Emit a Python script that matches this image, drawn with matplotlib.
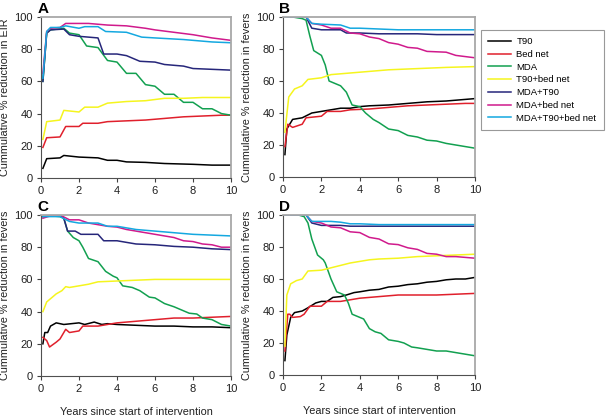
import matplotlib.pyplot as plt

#series names and colours (legend order)
names = ['T90', 'Bed net', 'MDA', 'T90+bed net', 'MDA+T90', 'MDA+bed net', 'MDA+T90+bed net']
colors = ['#000000', '#e0202c', '#12a050', '#f5f51e', '#26267a', '#d01a8c', '#14a8e0']

#panel A - cumulative % reduction in EIR
a_x = {
    'T90': [0.1, 0.3, 1.0, 1.2, 2, 3, 3.5, 4, 4.5, 5.5, 6.5, 8, 9, 10],
    'Bed net': [0.1, 0.3, 1.0, 1.3, 2, 2.2, 3, 3.5, 4.5, 5.5, 6.5, 7.5, 8.5, 9.5, 10],
    'MDA': [0.1, 0.3, 0.5, 1.2, 1.5, 2, 2.4, 3, 3.5, 4, 4.5, 5, 5.5, 6, 6.5, 7, 7.5, 8, 8.5, 9, 9.5, 10],
    'T90+bed net': [0.1, 0.3, 1.0, 1.2, 2, 2.3, 3, 3.5, 4.5, 5.5, 6.5, 7.5, 8.5, 10],
    'MDA+T90': [0.1, 0.3, 0.5, 1.2, 1.5, 2, 3, 3.3, 4, 4.5, 5.2, 6, 6.5, 7, 7.5, 8, 9, 10],
    'MDA+bed net': [0.1, 0.3, 0.5, 1.0, 1.3, 2, 2.5, 3, 3.5, 4.5, 5.5, 6, 7, 8, 9, 10],
    'MDA+T90+bed net': [0.1, 0.3, 0.5, 1.0, 1.3, 2, 2.3, 3, 3.4, 4.5, 5.3, 6, 7.5, 9, 10],
}
a_y = {
    'T90': [6, 12, 12.5, 14, 13, 12.5, 11, 11, 10, 9.7, 9, 8.5, 8, 8],
    'Bed net': [19, 25, 25.5, 32, 32, 34, 34, 35, 35.5, 36, 37, 38, 38.5, 39, 39],
    'MDA': [60, 90, 92, 93, 90, 89, 82, 81, 73, 72, 65, 65, 58, 57, 52, 52, 47, 47, 43, 43, 40, 39],
    'T90+bed net': [24, 35, 36, 42, 41, 44, 44, 46.5, 47.5, 48, 49.5, 49.5, 50, 50],
    'MDA+T90': [60, 90, 92, 92.5, 89, 88, 87, 77, 77, 76, 72.5, 72, 70.5, 70, 69.5, 68, 67.5, 67],
    'MDA+bed net': [65, 91, 93, 93.5, 96, 96, 96, 95.5, 95, 94.5, 93, 92, 90.5, 89, 87, 85.5],
    'MDA+T90+bed net': [62, 91, 93.5, 93.5, 94.5, 93, 94, 94, 91, 90.5, 87.5, 87, 86, 84.5, 84],
}

#panel B - cumulative % reduction in fevers
b_x = {
    'T90': [0.1, 0.2, 0.5, 1, 1.5, 2, 2.5, 3, 3.5, 4, 4.5, 5.5, 6.5, 7.5, 8.5, 9.5, 10],
    'Bed net': [0.1, 0.25, 0.5, 1, 1.2, 2, 2.3, 3, 3.5, 4.5, 5.5, 6.5, 7.5, 8.5, 9.5, 10],
    'MDA': [0.1, 0.5, 1, 1.2, 1.4, 1.6, 2, 2.2, 2.4, 3, 3.3, 3.6, 4, 4.3, 4.7, 5, 5.5, 6, 6.5, 7, 7.5, 8, 8.5, 9, 9.5, 10],
    'T90+bed net': [0.1, 0.3, 0.6, 1, 1.3, 2, 2.5, 3.5, 4.5, 5.5, 6.5, 7.5, 8.5, 10],
    'MDA+T90': [0.1, 1.2, 1.5, 2, 3, 3.3, 4, 5, 7, 8, 10],
    'MDA+bed net': [0.1, 1.2, 1.5, 2, 2.5, 3, 3.5, 4, 4.5, 5, 5.5, 6, 6.5, 7, 7.5, 8.5, 9, 10],
    'MDA+T90+bed net': [0.1, 1.2, 1.5, 2, 3, 3.5, 4, 5, 6, 8, 10],
}
b_y = {
    'T90': [14, 30, 36, 37, 40, 41, 42, 43, 43, 44, 44.5, 45, 46, 47, 47.5, 48.5, 49],
    'Bed net': [19, 33, 31, 33, 37, 38, 41, 41, 42, 42.5, 43.5, 44.5, 45, 45.5, 46, 46],
    'MDA': [100, 100, 99, 98, 88, 79, 76, 70, 60, 57, 53, 45, 44, 40, 36, 34, 30, 29, 26, 25, 23, 22.5, 21, 20, 19, 18],
    'T90+bed net': [28, 50, 55, 57, 61, 62, 64, 65, 66, 67, 67.5, 68, 68.5, 69],
    'MDA+T90': [100, 100, 93, 92, 92, 90, 90, 89.5, 89.5, 89, 89],
    'MDA+bed net': [100, 100, 96, 95, 93, 93, 90, 89.5, 87.5, 86.5, 84, 83, 81, 80.5, 78.5, 78, 76, 74.5],
    'MDA+T90+bed net': [100, 100, 96, 95.5, 95, 93, 93, 92.5, 92, 92, 92],
}

#panel C - cumulative % reduction in fevers
c_x = {
    'T90': [0.1, 0.2, 0.35, 0.5, 0.8, 1.2, 2, 2.3, 2.8, 3.2, 3.5, 4, 5, 6, 7, 8, 9, 10],
    'Bed net': [0.1, 0.3, 0.45, 0.8, 1, 1.3, 1.5, 2, 2.2, 3, 3.5, 4, 5, 6, 7, 8, 9, 10],
    'MDA': [0.1, 0.5, 1, 1.2, 1.4, 1.7, 2, 2.2, 2.5, 3, 3.4, 3.8, 4, 4.3, 4.8, 5.2, 5.7, 6, 6.5, 7, 7.4, 7.8, 8.2, 8.5, 9, 9.5, 10],
    'T90+bed net': [0.1, 0.3, 0.5, 0.8, 1.1, 1.3, 1.5, 2, 2.5, 3, 4, 5, 6, 8, 10],
    'MDA+T90': [0.1, 1, 1.2, 1.4, 1.8, 2.1, 3, 3.3, 4, 4.5, 5, 6, 7, 8, 9, 10],
    'MDA+bed net': [0.1, 0.5, 1, 1.5, 2, 2.5, 3, 3.5, 4, 4.5, 5, 5.5, 6, 6.5, 7, 7.5, 8, 8.5, 9, 9.5, 10],
    'MDA+T90+bed net': [0.1, 0.5, 1, 1.5, 2, 3, 3.5, 4, 4.5, 5, 6, 7, 8, 9, 10],
}
c_y = {
    'T90': [20, 27, 27, 31, 33, 32, 33, 32, 33.5, 32, 32.5, 32, 31.5, 31, 31, 30.5, 30.5, 30],
    'Bed net': [24, 22, 18, 21, 23, 29, 27, 28, 31, 31, 32, 33, 34, 35, 36, 36, 36.5, 37],
    'MDA': [99, 99.5, 99, 98, 90, 86, 84, 80, 73, 71, 65, 62, 61, 56, 55, 53, 49, 48.5, 45, 43, 41, 39, 38.5, 36, 35, 32, 31],
    'T90+bed net': [40, 46, 48, 51, 53, 55.5, 55, 56, 57, 58.5, 59, 59.5, 60, 60, 60],
    'MDA+T90': [99, 100, 98, 90, 90, 88, 88, 84, 84, 83, 82, 81.5, 80.5, 80, 79, 78.5],
    'MDA+bed net': [98, 99.5, 100, 97, 97, 95, 94, 93, 92.5, 91, 90, 89, 88, 87, 86, 84, 83.5, 82, 81.5, 80, 80],
    'MDA+T90+bed net': [99, 99, 99, 96, 95, 95, 93, 93, 92, 91, 90, 89, 88, 87.5, 87],
}

#panel D - cumulative % reduction in fevers
d_x = {
    'T90': [0.1, 0.2, 0.4, 0.6, 1, 1.3, 1.7, 2, 2.3, 2.6, 3, 3.3, 3.7, 4, 4.5, 5, 5.5, 6, 6.5, 7, 7.5, 8, 8.5, 9, 9.5, 10],
    'Bed net': [0.1, 0.25, 0.35, 0.5, 0.9, 1.1, 1.4, 2, 2.3, 3, 3.5, 4, 4.5, 5, 5.5, 6, 7, 8, 9, 10],
    'MDA': [0.1, 0.8, 1.1, 1.3, 1.5, 1.8, 2.1, 2.2, 2.5, 2.8, 3.2, 3.4, 3.6, 4, 4.2, 4.5, 4.8, 5.1, 5.5, 6, 6.3, 6.7, 7, 7.5, 8, 8.5, 9, 9.5, 10],
    'T90+bed net': [0.1, 0.2, 0.4, 0.7, 1, 1.3, 2, 2.5, 3, 3.5, 4, 4.5, 5, 6, 7, 8, 9, 10],
    'MDA+T90': [0.1, 1.2, 1.5, 2, 3, 3.5, 4, 6, 10],
    'MDA+bed net': [0.1, 1.2, 1.5, 2, 2.5, 3, 3.5, 4, 4.5, 5, 5.5, 6, 6.5, 7, 7.5, 8, 8.5, 9, 10],
    'MDA+T90+bed net': [0.1, 1.2, 1.5, 2, 2.5, 3, 3.5, 4, 5, 7, 10],
}
d_y = {
    'T90': [9, 25, 36, 39, 40, 42, 45, 46, 46, 48.5, 49, 50, 51.5, 52, 53, 53.5, 55, 55.5, 56.5, 57, 58, 58.5, 59.5, 60, 60, 61],
    'Bed net': [15, 38, 38, 36, 36.5, 38, 43, 43, 46, 46, 47, 48, 48.5, 49, 49.5, 50, 50, 50, 50.5, 51],
    'MDA': [100, 100, 99, 95, 85, 75, 72, 70, 60, 52, 50, 45, 38, 36, 35, 29, 27, 26, 22, 21, 20, 17.5, 17, 16, 15, 15, 14, 13, 12],
    'T90+bed net': [18, 50, 57, 59, 60, 65, 65.5, 67, 68.5, 70, 71, 72, 72.5, 73, 74, 74.5, 75, 75.5],
    'MDA+T90': [100, 100, 95, 93.5, 93.5, 93, 93, 93, 93],
    'MDA+bed net': [100, 100, 96, 95, 92.5, 92, 89.5, 89, 86, 85, 82, 81.5, 79.5, 78.5, 76, 75.5, 74, 74, 73],
    'MDA+T90+bed net': [100, 100, 96, 96, 96, 95.5, 94.5, 94.5, 94, 94, 94],
}

panels = [
    ('A', a_x, a_y, 'Cummulative % reduction in EIR'),
    ('B', b_x, b_y, 'Cummulative % reduction in fevers'),
    ('C', c_x, c_y, 'Cummulative % reduction in fevers'),
    ('D', d_x, d_y, 'Cummulative % reduction in fevers'),
]

W, H = 611, 417
#axes boxes in pixels: left, top, right, bottom
boxes = [(41, 17, 231, 178), (283, 17, 475, 177), (41, 215, 231, 376), (283, 215, 475, 375)]

plt.rcParams['font.family'] = 'Liberation Sans'
fig = plt.figure(figsize=(W / 100, H / 100), dpi=100)

handles = []
for (label, px, py, ylabel), (l, t, r, b) in zip(panels, boxes):
    ax = fig.add_axes([l / W, 1 - b / H, (r - l) / W, (b - t) / H])
    lines = []
    for name, col in zip(names, colors):
        ln, = ax.plot(px[name], py[name], color=col, lw=1.1)
        lines.append(ln)
    handles = lines
    ax.set_xlim(0, 10)
    ax.set_ylim(0, 100)
    ax.set_xticks([0, 2, 4, 6, 8, 10])
    ax.set_yticks([0, 20, 40, 60, 80, 100])
    ax.tick_params(labelsize=8, length=3, color='#404040', pad=3, labelcolor='#202020')
    for s in ['left', 'bottom']:
        ax.spines[s].set_color('#505050')
    for s in ['top', 'right']:
        ax.spines[s].set_color('#a8a8a8')
        ax.spines[s].set_linewidth(1.3)
    ax.set_ylabel(ylabel, fontsize=7.8, labelpad=3, color='#202020')
    ax.text(-0.02, 1.005, label, transform=ax.transAxes, fontsize=11, fontweight='bold',
            ha='left', va='bottom')
    if label in ('C', 'D'):
        ax.set_xlabel('Years since start of intervention', fontsize=7.8, labelpad=9,
                      color='#202020')

#legend box in pixels: left 481, top 30, right 608, bottom 131
leg = fig.legend(handles, names, loc='upper left', bbox_to_anchor=(481 / W, 1 - 30 / H),
                 fontsize=6.8, frameon=True, fancybox=False, edgecolor='#808080',
                 handlelength=2.4, handletextpad=0.6, borderpad=0.75, labelspacing=0.4,
                 borderaxespad=0)
leg.get_frame().set_linewidth(0.8)

fig.savefig('out.png', dpi=100)
